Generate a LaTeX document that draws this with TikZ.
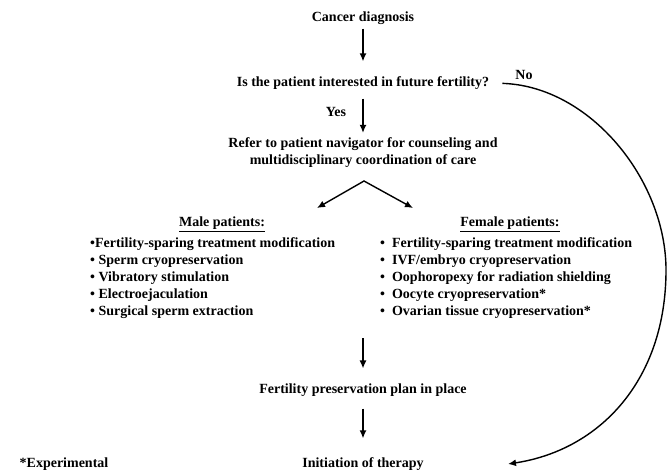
\documentclass[tikz,border=0pt]{standalone}
\usepackage{fontspec}
\setmainfont{Liberation Serif}
\usetikzlibrary{positioning,arrows.meta}

\begin{document}
\begin{tikzpicture}[x=1pt,y=-1pt,>={Latex[length=8pt,width=7pt]},
  txt/.style={font=\bfseries\fontsize{14}{17}\selectfont,inner sep=1pt},
  link/.style={->,line width=1.4pt}]
  \useasboundingbox (0,0) rectangle (669,475);
  \node[txt] (cancer) at (363,18) {Cancer diagnosis};
  \node[txt] (quest) at (363,83) {Is the patient interested in future fertility?};
  \node[txt] (yes) at (336,112) {Yes};
  \node[txt] (no) at (524,75) {No};
  \node[txt,align=center] (refer) at (363,153) {Refer to patient navigator for counseling and\\multidisciplinary coordination of care};
  \coordinate (apex) at (364,181);
  \coordinate (mtip) at (317,208);
  \coordinate (ftip) at (413,208);
  \node[txt] (mhead) at (222,224) {\underline{Male patients:}};
  \node[txt,align=left,anchor=north west] (male) at (89,236) {%
    •Fertility-sparing treatment modification\\
    • Sperm cryopreservation\\
    • Vibratory stimulation\\
    • Electroejaculation\\
    • Surgical sperm extraction};
  \node[txt] (fhead) at (510,224) {\underline{Female patients:}};
  \node[txt,align=left,anchor=north west] (female) at (379,236) {%
    •\hspace{0.5em}Fertility-sparing treatment modification\\
    •\hspace{0.5em}IVF/embryo cryopreservation\\
    •\hspace{0.5em}Oophoropexy for radiation shielding\\
    •\hspace{0.5em}Oocyte cryopreservation*\\
    •\hspace{0.5em}Ovarian tissue cryopreservation*};
  \coordinate (split) at (363,338);
  \node[txt] (plan) at (363,390) {Fertility preservation plan in place};
  \node[txt] (init) at (363,464) {Initiation of therapy};
  \node[txt] (expnote) at (64,464) {*Experimental};
  \coordinate (itip) at (508,464);
  % main line
  \draw[link,shorten <=3pt,shorten >=14pt] (cancer) -- (quest);
  \draw[link,shorten <=8pt,shorten >=4pt] (quest.south) -- (quest.south |- refer.north);
  \draw[<->,line width=1.4pt,line join=miter] (mtip) -- (apex) -- (ftip);
  \draw[link,shorten >=14pt] (split) -- (plan);
  \draw[link,shorten <=11pt,shorten >=18pt] (plan) -- (init);
  % no branch
  \draw[link,shorten <=12pt] (quest.east) .. controls (590,86) and (666,180) .. (666,270)
    .. controls (666,380) and (600,450) .. (itip);
\end{tikzpicture}
\end{document}
